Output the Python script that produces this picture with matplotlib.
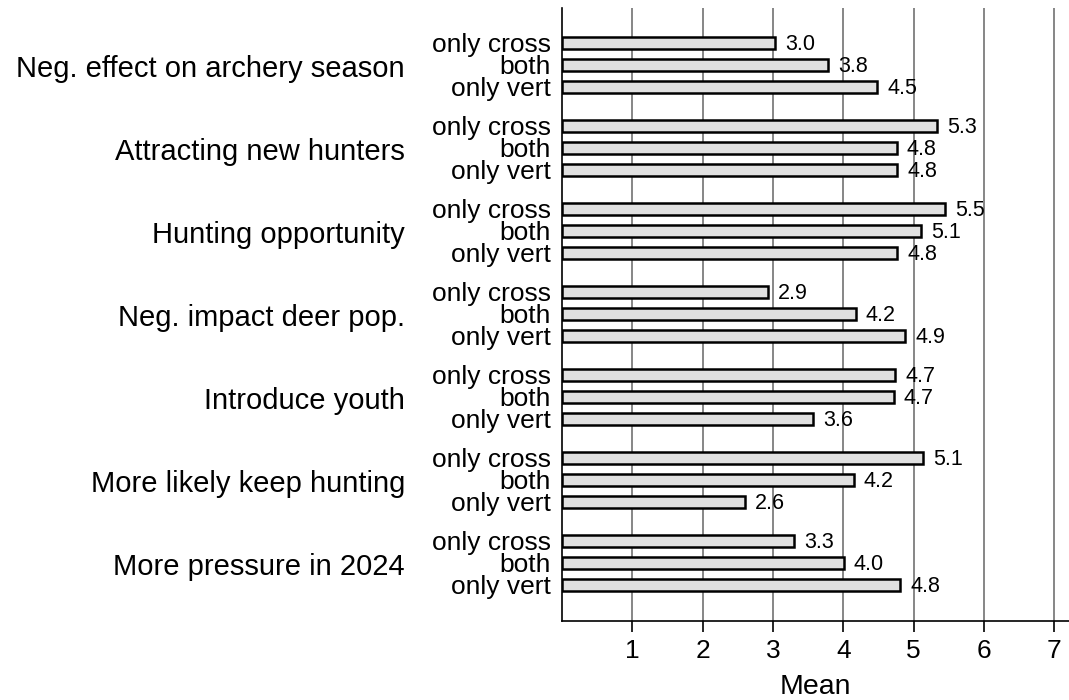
import numpy as np
import matplotlib.pyplot as plt

plt.rcParams['font.family'] = ['Liberation Sans', 'DejaVu Sans']

groups = ['Neg. effect on archery season', 'Attracting new hunters',
          'Hunting opportunity', 'Neg. impact deer pop.', 'Introduce youth',
          'More likely keep hunting', 'More pressure in 2024']
subs = ['only cross', 'both', 'only vert']
only_cross = [3.03, 5.33, 5.45, 2.93, 4.74, 5.13, 3.30]
both = [3.78, 4.76, 5.11, 4.18, 4.72, 4.15, 4.01]
only_vert = [4.48, 4.77, 4.77, 4.88, 3.57, 2.60, 4.81]
xticks = [1, 2, 3, 4, 5, 6, 7]

gstep = 83 / 22
fig = plt.figure(figsize=(10.69, 7.0), dpi=100)
ax = fig.add_axes([562 / 1069, 1 - 621 / 700, 1 - 562 / 1069, (621 - 8) / 700])

ypos, ylabs = [], []
for g in range(len(groups)):
    vals = [only_cross[g], both[g], only_vert[g]]
    for k, v in enumerate(vals):
        y = g * gstep + (k - 1)
        ax.barh(y, v, height=0.55, color='#e0e0e0', edgecolor='black',
                linewidth=1.8, zorder=3)
        ax.annotate(f'{v:.1f}', (v, y + 0.08), xytext=(10, 0), textcoords='offset pixels',
                    va='center', ha='left', fontsize=15.5, zorder=4)
        ypos.append(y)
        ylabs.append(subs[k])
    ax.annotate(groups[g], (0, g * gstep + 0.2), xycoords=('axes fraction', 'data'),
                xytext=(-157, 0), textcoords='offset pixels',
                ha='right', va='center', fontsize=21)

ax.set_yticks(ypos)
ax.set_yticklabels(ylabs, fontsize=19)
ax.tick_params(axis='y', length=0, pad=8)
ax.set_ylim(6 * gstep + 2.64, -2.59)
ax.set_xlim(0, 7.21)
ax.set_xticks(xticks)
ax.set_xticklabels([str(t) for t in xticks], fontsize=19)
ax.tick_params(axis='x', length=8, width=1.2, direction='out', pad=5)
ax.grid(axis='x', color='#666666', linewidth=1.1, zorder=0)
ax.set_axisbelow(True)
for s in ['top', 'right']:
    ax.spines[s].set_visible(False)
for s in ['left', 'bottom']:
    ax.spines[s].set_linewidth(1.2)
ax.set_xlabel('Mean', fontsize=20.5, labelpad=8)

fig.savefig('out.png', dpi=100)
